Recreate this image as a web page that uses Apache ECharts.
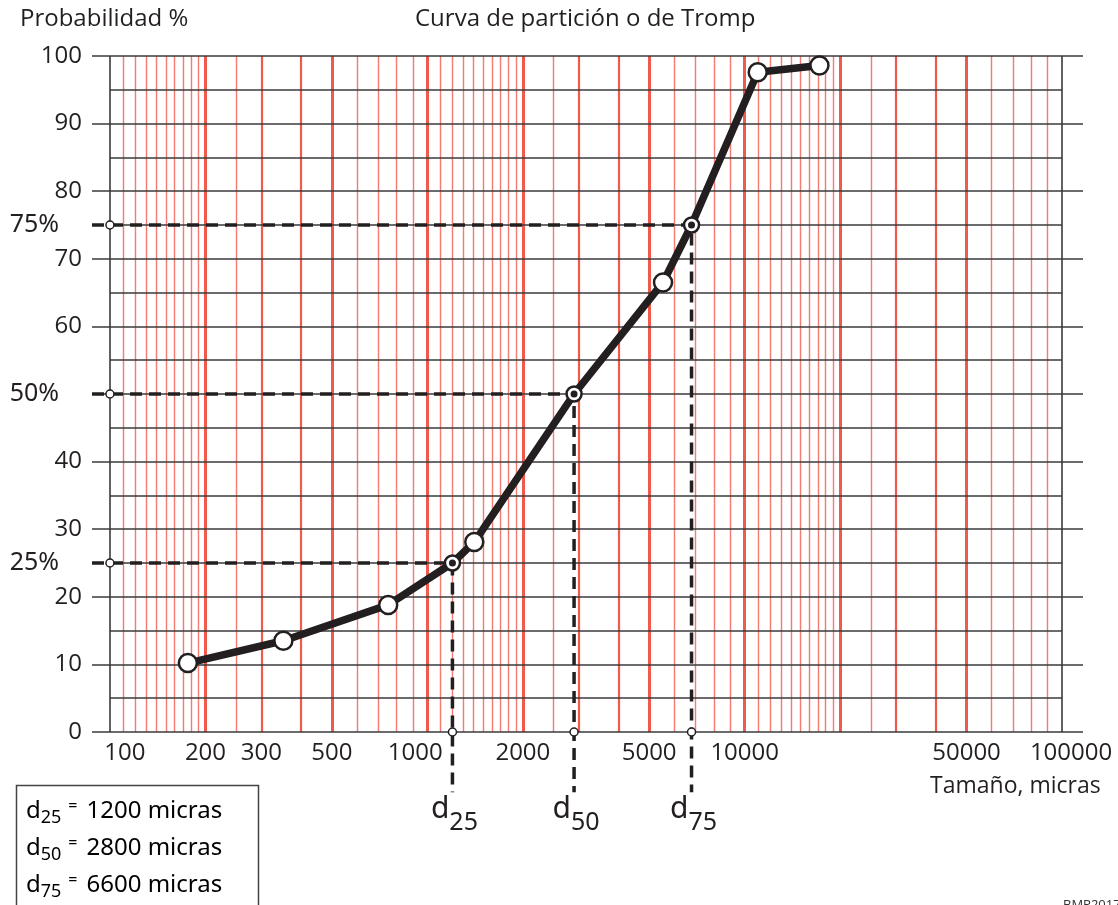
<!DOCTYPE html>
<html>
<head>
<meta charset="utf-8">
<title>Curva de partición o de Tromp</title>
<style>
    html, body { margin: 0; padding: 0; background: #fff; }
    #chart { width: 1118px; height: 905px; }
</style>
</head>
<body>
<div id="chart"></div>
<script src="https://cdn.jsdelivr.net/npm/echarts@6.0.0/dist/echarts.min.js"></script>
<script>
// curva de Tromp: tamaño (micras) y probabilidad (%)
var sizes = [176, 352, 753, 1200, 1406, 2900, 5530, 6800, 10990, 17200];
var probs = [10.2, 13.5, 18.8, 25, 28.1, 50, 66.5, 75, 97.6, 98.6];

// d25, d50, d75
var dLevels = [25, 50, 75];
var dSizes = [1200, 2900, 6800];
var dNames = ['25', '50', '75'];
var dValues = ['1200', '2800', '6600'];

// etiquetas del eje x
var xLabels = [100, 200, 300, 500, 1000, 2000, 5000, 10000, 50000, 100000];
var xLabelShift = [15, 0, 0, 0, -12, 0, 0, 0, 0, 9];

// papel logaritmico (lineas rojas)
var redThick = [200, 500, 1000, 2000, 5000, 10000, 20000, 50000];
var redMedium = [300, 400, 3000, 4000, 30000, 40000];
var redThin = [110, 120, 130, 140, 150, 160, 170, 180, 190, 250, 600, 700, 800, 900,
    1100, 1200, 1300, 1400, 1500, 1600, 1700, 1800, 1900, 2500, 6000, 7000, 8000, 9000,
    11000, 12000, 13000, 14000, 15000, 16000, 17000, 18000, 19000, 25000,
    60000, 70000, 80000, 90000];
var minorY = [5, 15, 25, 35, 45, 55, 65, 75, 85, 95];
var paperEdge = [100, 100000];

// extension del grid a ambos lados del papel
var xMin = 87.8, xMax = 116400;
var dashStart = 76.5, dashBottom = -8.9;

var ink = '#231f20';
var red = '#f05a4d';
var font = '"Open Sans", "Noto Sans", sans-serif';
var hand = '"Noto Sans", "DejaVu Sans", sans-serif';

var chart = echarts.init(document.getElementById('chart'));

var redLines = [];
redThin.forEach(function (v) {
    redLines.push({ xAxis: v, lineStyle: { width: 1.4, opacity: 0.8 } });
});
redMedium.forEach(function (v) {
    redLines.push({ xAxis: v, lineStyle: { width: 2.2 } });
});
redThick.forEach(function (v) {
    redLines.push({ xAxis: v, lineStyle: { width: 3 } });
});

var blackLines = [];
paperEdge.forEach(function (v) {
    blackLines.push({ xAxis: v });
});
minorY.forEach(function (v) {
    blackLines.push([{ coord: [paperEdge[0], v] }, { coord: [paperEdge[1], v] }]);
});

var series = [];

series.push({
    type: 'scatter', silent: true, symbolSize: 0, data: [[1000, 50]],
    markLine: {
        silent: true, z: 1, animation: false, symbol: ['none', 'none'],
        label: { show: false },
        lineStyle: { color: red, type: 'solid' },
        data: redLines
    }
});

series.push({
    type: 'scatter', silent: true, symbolSize: 0, data: [[1000, 50]],
    markLine: {
        silent: true, z: 4, animation: false, symbol: ['none', 'none'],
        label: { show: false },
        lineStyle: { color: '#3a3a3a', type: 'solid', width: 1.6 },
        data: blackLines
    }
});

// lineas discontinuas de d25, d50, d75
dLevels.forEach(function (lvl, i) {
    series.push({
        type: 'line', z: 6, clip: false, silent: true, symbol: 'none',
        lineStyle: { color: ink, width: 3.5, type: [12, 7] },
        data: [[dashStart, lvl], [dSizes[i], lvl], [dSizes[i], dashBottom]]
    });
});

// curva
series.push({
    type: 'line', z: 10, silent: true,
    symbol: 'circle', symbolSize: 18,
    lineStyle: { color: ink, width: 7.5 },
    itemStyle: { color: '#fff', borderColor: ink, borderWidth: 2.5 },
    data: sizes.map(function (s, i) {
        var isD = dSizes.indexOf(s) >= 0;
        return isD ? { value: [s, probs[i]], symbolSize: 15 } : [s, probs[i]];
    })
});

// punto negro dentro de d25, d50, d75
series.push({
    type: 'scatter', z: 11, silent: true, symbolSize: 7,
    itemStyle: { color: ink, opacity: 1 },
    data: dSizes.map(function (s, i) { return [s, dLevels[i]]; })
});

// circulos pequeños sobre los ejes
var axisDots = [];
dLevels.forEach(function (lvl) { axisDots.push([paperEdge[0], lvl]); });
dSizes.forEach(function (s) { axisDots.push([s, 0]); });
series.push({
    type: 'scatter', z: 11, silent: true, clip: false, symbolSize: 8,
    itemStyle: { color: '#fff', borderColor: ink, borderWidth: 1.5, opacity: 1 },
    data: axisDots
});

// etiquetas del eje x
series.push({
    type: 'scatter', z: 12, silent: true, clip: false, symbolSize: 0,
    itemStyle: { opacity: 1 },
    label: {
        show: true, position: 'bottom', distance: 9,
        fontFamily: font, fontSize: 24, color: ink,
        formatter: function (p) { return String(p.value[0]); }
    },
    data: xLabels.map(function (v, i) {
        return { value: [v, 0], label: { offset: [xLabelShift[i], 0] } };
    })
});

// etiquetas 25%, 50%, 75% y d25, d50, d75
var annot = [];
dLevels.forEach(function (lvl, i) {
    annot.push({
        value: [dashStart, lvl],
        label: { position: 'left', distance: 14, formatter: lvl + '%', fontSize: 25 }
    });
    annot.push({
        value: [dSizes[i], dashBottom],
        label: {
            position: 'bottom', distance: 0, offset: [2, -8],
            formatter: '{d|d}{s|' + dNames[i] + '}'
        }
    });
});
series.push({
    type: 'scatter', z: 12, silent: true, clip: false, symbolSize: 0,
    itemStyle: { opacity: 1 },
    label: {
        show: true, fontFamily: hand, color: ink,
        rich: {
            d: { fontFamily: hand, fontSize: 30, color: ink },
            s: { fontFamily: hand, fontSize: 25, color: ink, padding: [26, 0, 0, 0] }
        }
    },
    data: annot
});

var boxRich = {
    d: { fontFamily: hand, fontSize: 24, color: ink },
    s: { fontFamily: hand, fontSize: 18, color: ink, padding: [14, 0, 0, 0] },
    eq: { fontFamily: hand, fontSize: 16, color: ink, padding: [0, 9, 10, 7] },
    t: { fontFamily: hand, fontSize: 24, color: ink }
};

var boxTexts = dNames.map(function (n, i) {
    return {
        type: 'text', left: 26, top: 798 + i * 37,
        style: {
            text: '{d|d}{s|' + n + '}{eq|=}{t|' + dValues[i] + ' micras}',
            rich: boxRich
        }
    };
});

chart.setOption({
    animation: false,
    grid: { left: 92, right: 35, top: 56, bottom: 173, outerBoundsMode: 'none' },
    xAxis: {
        type: 'log', logBase: 10, min: xMin, max: xMax,
        axisLine: { show: false }, axisTick: { show: false },
        axisLabel: { show: false }, splitLine: { show: false }
    },
    yAxis: {
        type: 'value', min: 0, max: 100, interval: 10, z: 3,
        axisLine: { show: false }, axisTick: { show: false },
        axisLabel: {
            fontFamily: font, fontSize: 24, color: ink, margin: 10,
            // el 50 queda tapado por la marca 50%
            formatter: function (v) { return v === 50 ? '' : String(v); }
        },
        splitLine: { lineStyle: { color: '#3a3a3a', width: 1.6 } }
    },
    series: series,
    graphic: [
        {
            type: 'text', left: 20, top: 7,
            style: { text: 'Probabilidad %', fontFamily: font, fontSize: 24, fill: ink }
        },
        {
            type: 'text', left: 415, top: 7,
            style: { text: 'Curva de partición o de Tromp', fontFamily: font, fontSize: 24, fill: ink }
        },
        {
            type: 'text', left: 930, top: 775,
            style: { text: 'Tamaño, micras', fontFamily: font, fontSize: 23, fill: ink }
        },
        {
            type: 'rect', left: 14, top: 783,
            shape: { width: 242, height: 140 },
            style: { fill: 'none', stroke: '#444', lineWidth: 1.5 }
        },
        {
            type: 'text', left: 1063, top: 899,
            style: { text: 'BMP2017', fontFamily: font, fontSize: 13, fill: '#333' }
        }
    ].concat(boxTexts)
});
</script>
</body>
</html>
